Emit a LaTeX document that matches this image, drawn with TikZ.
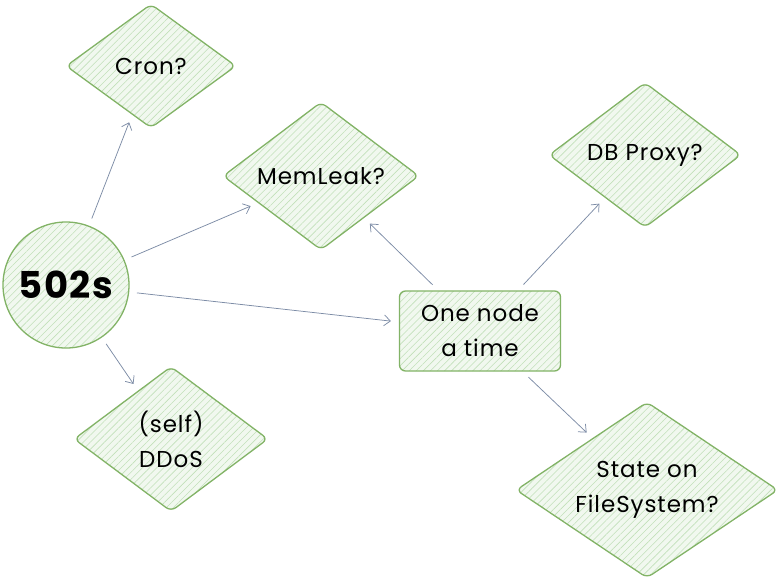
\documentclass[tikz,border=0pt]{standalone}
\usepackage{fontspec}
\setmainfont{Poppins}[LetterSpace=4]
\usetikzlibrary{shapes.geometric,arrows.meta,patterns.meta}
\definecolor{leafline}{HTML}{82B366}
\definecolor{leaffill}{HTML}{F1F8EF}
\definecolor{hatch}{HTML}{C2E0BA}
\definecolor{wire}{HTML}{7D8CA6}

\begin{document}
\begin{tikzpicture}[x=1pt,y=-1pt,font=\fontsize{23}{35}\selectfont,
  >={Straight Barb[length=2.2mm,width=3.8mm]},
  sketch/.style={draw=leafline,line width=1.3pt,preaction={fill=leaffill},
    pattern={Lines[angle=45,distance=5pt,line width=0.6pt]},pattern color=hatch},
  guess/.style={sketch,diamond,aspect=1.8,rounded corners=6pt,inner sep=0pt,align=center},
  link/.style={->,draw=wire,line width=0.75pt,shorten <=8pt,shorten >=8pt}]
  \useasboundingbox (0,0) rectangle (782,582);

  % the symptom
  \node[sketch,circle,minimum size=126pt,inner sep=0pt,
    font=\fontsize{37}{40}\selectfont\bfseries] (errs) at (66,285) {502s};

  % suspects
  \node[guess,minimum width=170pt,minimum height=124pt] (cron) at (151,66) {Cron?};
  \node[guess,minimum width=196pt,minimum height=148pt] (leak) at (321,176) {MemLeak?};
  \node[guess,minimum width=192pt,minimum height=145pt] (proxy) at (645,155) {DB Proxy?};
  \node[guess,minimum width=194pt,minimum height=145pt] (ddos) at (171,439) {(self)\\DDoS};
  \node[guess,minimum width=262pt,minimum height=176pt] (state) at (647,490) {State on\\FileSystem?};
  \node[sketch,rounded corners=6pt,minimum width=161pt,minimum height=80pt,
    align=center] (single) at (480,331) {One node\\a time};

  \draw[link] (errs) -- (cron);
  \draw[link] (errs) -- (leak);
  \draw[link] (errs) -- (single);
  \draw[link] (errs) -- (ddos);
  \draw[link] (single) -- (leak);
  \draw[link] (single) -- (proxy);
  \draw[link] (single) -- (state);
\end{tikzpicture}
\end{document}
